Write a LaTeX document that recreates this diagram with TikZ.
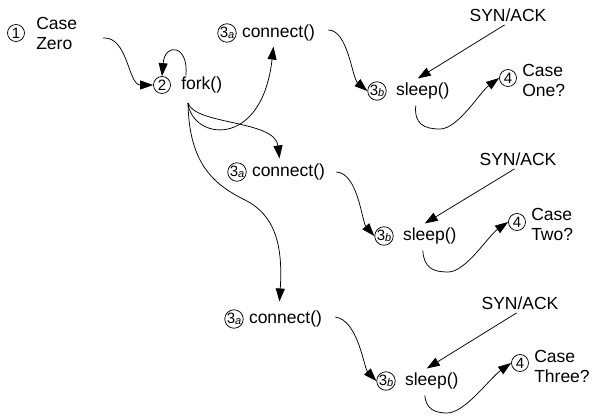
\documentclass[tikz,border=0pt]{standalone}
\usepackage{fontspec}
\setmainfont{Liberation Sans}
\usetikzlibrary{arrows.meta,positioning}
\tikzstyle{num} = [draw=black,circle,inner sep=0pt,minimum size=17pt,font=\fontsize{15}{15}\selectfont]
\tikzstyle{call} = [align=left,inner sep=1pt,font=\fontsize{17.5}{20}\selectfont]
\tikzstyle{note} = [align=center,inner sep=1pt,font=\fontsize{17.5}{20}\selectfont]
\newcommand{\stepnum}[1]{3\raisebox{-1pt}{\fontsize{11}{11}\selectfont\itshape #1}}

\begin{document}
\begin{tikzpicture}[x=1pt,y=-1pt,>={Triangle[length=13pt,width=9pt]},line width=0.75pt]
	\useasboundingbox (0,0) rectangle (596,416);
	\node (n1) [num] at (16,33) {1};
	\node (zero) [call,right=10pt of n1] {Case\\Zero};
	\node (n2) [num] at (162,85) {2};
	\node (fork) [call,right=9pt of n2] {fork()};
	% first try
	\node (a1) [num] at (227,33) {\stepnum{a}};
	\node (conn1) [call,right=4pt of a1] {connect()};
	\node (b1) [num] at (377,91) {\stepnum{b}};
	\node (sleep1) [call,right=8pt of b1] {sleep()};
	\node (syn1) [note] at (508,15) {SYN/ACK};
	\node (f1) [num] at (508,78) {4};
	\node (case1) [call,right=4pt of f1,yshift=-2pt] {Case\\One?};
	% second try
	\node (a2) [num] at (237,172) {\stepnum{a}};
	\node (conn2) [call,right=4pt of a2] {connect()};
	\node (b2) [num] at (384,236) {\stepnum{b}};
	\node (sleep2) [call,right=8pt of b2] {sleep()};
	\node (syn2) [note] at (518,159) {SYN/ACK};
	\node (f2) [num] at (517,222) {4};
	\node (case2) [call,right=4pt of f2,yshift=-2pt] {Case\\Two?};
	% third try
	\node (a3) [num] at (234,319) {\stepnum{a}};
	\node (conn3) [call,right=4pt of a3] {connect()};
	\node (b3) [num] at (386,381) {\stepnum{b}};
	\node (sleep3) [call,right=8pt of b3] {sleep()};
	\node (syn3) [note] at (520,303) {SYN/ACK};
	\node (f3) [num] at (520,363) {4};
	\node (case3) [call,right=4pt of f3,yshift=-3pt] {Case\\Three?};
	\coordinate (zeroout) at (103,38);
	\coordinate (forkout) at (188,103);
	\draw [->] (zeroout) .. controls (128,36) and (128,85) .. (n2.west);
	\draw [->] ([xshift=6pt]fork.north west) .. controls (189,45) and (165,42) .. (n2.north);
	\draw [->] (forkout) .. controls (192,140) and (262,150) .. ([xshift=-5pt,yshift=-4pt]conn1.south);
	\draw [->] (forkout) .. controls (195,125) and (275,120) .. ([xshift=-9pt,yshift=4pt]conn2.north);
	\draw [->] (forkout) .. controls (189,165) and (215,185) .. (245,200) .. controls (275,215) and (283,245) .. ([xshift=-6pt,yshift=8pt]conn3.north);
	\draw [->] ([xshift=12pt,yshift=3pt]conn1.east) .. controls (348,30) and (352,78) .. (b1.west);
	\draw [->] ([xshift=10pt]conn2.east) .. controls (358,173) and (362,222) .. (b2.west);
	\draw [->] ([xshift=12pt,yshift=2pt]conn3.east) .. controls (358,320) and (364,368) .. (b3.west);
	\draw [->,shorten <=4pt] (syn1.south) -- ([xshift=-5pt,yshift=3pt]sleep1.north);
	\draw [->,shorten <=4pt] (syn2.south) -- ([xshift=-5pt,yshift=3pt]sleep2.north);
	\draw [->,shorten <=4pt] (syn3.south) -- ([xshift=-5pt,yshift=3pt]sleep3.north);
	\draw [->] ([xshift=-7pt,yshift=-5pt]sleep1.south) .. controls (414,124) and (424,129) .. (440,129) .. controls (458,129) and (480,92) .. (f1.west);
	\draw [->] ([xshift=-7pt,yshift=-5pt]sleep2.south) .. controls (424,268) and (433,272) .. (448,272) .. controls (466,272) and (488,236) .. (f2.west);
	\draw [->] ([xshift=-7pt,yshift=-5pt]sleep3.south) .. controls (426,409) and (435,413) .. (447,413) .. controls (465,413) and (490,378) .. (f3.west);
\end{tikzpicture}
\end{document}
